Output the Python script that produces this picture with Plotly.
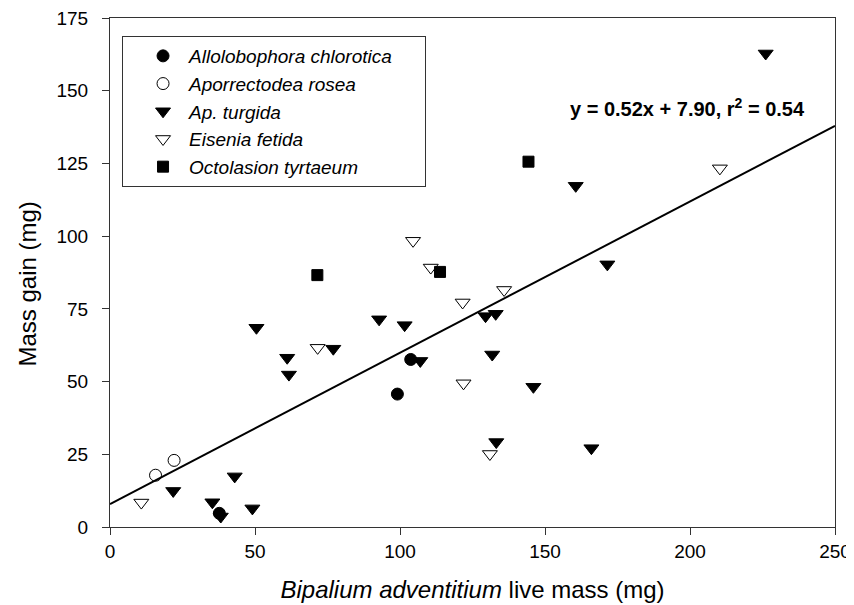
import plotly.graph_objects as go

# ── Données ──────────────────────────────────────────────────────────────
chlorotica_x = [37.7, 99.1, 103.7]
chlorotica_y = [4.7, 45.7, 57.6]

rosea_x = [15.7, 22.1]
rosea_y = [17.8, 22.9]

turgida_x = [21.8, 35.3, 38.2, 43.0, 49.1, 50.5, 61.1, 61.7, 77.0, 92.8, 101.6,
             107.0, 129.5, 133.0, 131.8, 133.2, 146.0, 160.6, 166.0, 171.5, 226.1]
turgida_y = [12.4, 8.5, 3.6, 17.4, 6.4, 68.5, 58.2, 52.4, 61.3, 71.4, 69.4,
             57.1, 72.5, 73.3, 59.3, 29.2, 48.2, 117.3, 27.1, 90.3, 162.8]

fetida_x = [10.8, 71.6, 104.5, 110.6, 121.6, 121.9, 131.0, 135.9, 210.3]
fetida_y = [8.4, 61.6, 98.4, 89.2, 77.2, 49.4, 25.1, 81.5, 123.3]

tyrtaeum_x = [71.5, 113.8, 144.3]
tyrtaeum_y = [86.6, 87.7, 125.6]

slope = 0.52
intercept = 7.90
fit_x = [0, 250]

x_ticks = [0, 50, 100, 150, 200, 250]
y_ticks = [0, 25, 50, 75, 100, 125, 150, 175]

FONT = "Liberation Sans, Arial, sans-serif"
AXIS = "#333"
NBSP = "\u00a0"

fig = go.Figure()

series = [
    ("Allolobophora chlorotica" + NBSP * 5, chlorotica_x, chlorotica_y, "circle", 12),
    ("Aporrectodea rosea", rosea_x, rosea_y, "circle-open", 12),
    ("Ap. turgida", turgida_x, turgida_y, "triangle-down", 13),
    ("Eisenia fetida", fetida_x, fetida_y, "triangle-down-open", 13),
    ("Octolasion tyrtaeum", tyrtaeum_x, tyrtaeum_y, "square", 11),
]

for name, xs, ys, symbol, size in series:
    fig.add_trace(go.Scatter(
        x=xs, y=ys, mode="markers", name=f"<i>{name}</i>",
        marker=dict(symbol=symbol, size=size, color="black",
                    line=dict(color="black", width=1)),
    ))

# ── Droite de régression ────────────────────────────────────────────────
fig.add_trace(go.Scatter(
    x=fit_x, y=[slope * v + intercept for v in fit_x],
    mode="lines", line=dict(color="black", width=2), showlegend=False,
))

fig.add_annotation(
    x=0.797, y=0.825, xref="paper", yref="paper",
    xanchor="center", yanchor="middle",
    text="<b>y = 0.52x + 7.90, r<sup>2</sup> = 0.54</b>",
    showarrow=False, font=dict(family=FONT, size=20, color="black"),
)

# titre de l'axe y (placé à la main, légèrement sous le centre)
fig.add_annotation(
    x=-0.114, y=0.477, xref="paper", yref="paper",
    xanchor="center", yanchor="middle", textangle=-90,
    text="Mass gain (mg)", showarrow=False,
    font=dict(family=FONT, size=24, color="black"),
)

# ── Mise en page ────────────────────────────────────────────────────────
# la page ajoute 8 px de marge au corps : on compense
fig.update_layout(
    width=846, height=597,
    margin=dict(l=102, r=19, t=10, b=78),
    plot_bgcolor="white", paper_bgcolor="white",
    font=dict(family=FONT, size=19, color="black"),
    showlegend=True,
    legend=dict(
        x=0.0166, y=0.9646, xanchor="left", yanchor="top",
        bordercolor=AXIS, borderwidth=1, bgcolor="white",
        font=dict(family=FONT, size=19, color="black"),
        indentation=14, itemwidth=42,
    ),
)

fig.update_xaxes(
    range=[0, 250], tickvals=x_ticks, automargin=False,
    showgrid=False, zeroline=False,
    showline=True, linecolor=AXIS, linewidth=1, mirror=True,
    ticks="outside", ticklen=7, tickcolor=AXIS, ticklabeloverflow="allow",
    title=dict(text="<i>Bipalium adventitium</i> live mass (mg)",
               font=dict(size=24), standoff=20),
)
fig.update_yaxes(
    range=[0, 175], tickvals=y_ticks, automargin=False,
    showgrid=False, zeroline=False,
    showline=True, linecolor=AXIS, linewidth=1, mirror=True,
    ticks="outside", ticklen=7, tickcolor=AXIS, ticklabelstandoff=10,
    ticklabeloverflow="allow",
)

fig.write_html("out.html")
